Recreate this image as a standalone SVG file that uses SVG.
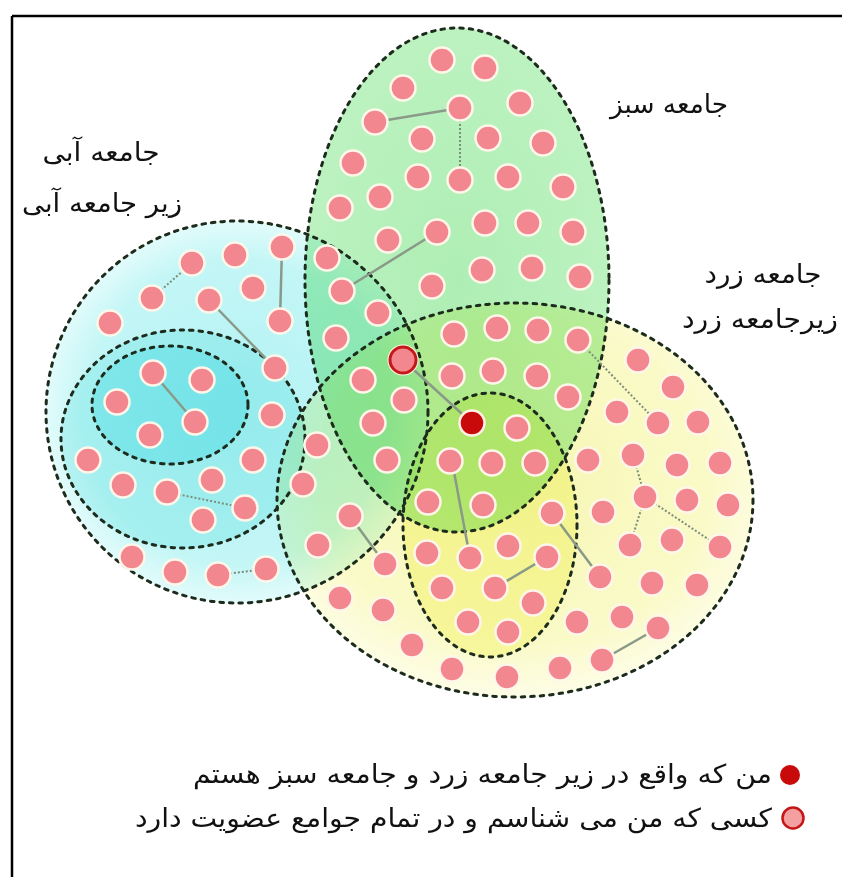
<svg xmlns="http://www.w3.org/2000/svg" width="842" height="877" viewBox="0 0 842 877">
<style>
.fill{mix-blend-mode:multiply}
.outline{fill:none;stroke:#1d2b1d;stroke-width:3;stroke-dasharray:3.5 6;stroke-linecap:round}
.d{fill:#f3878f;stroke:#fff6ea;stroke-width:2.5}
.e{stroke:#8a9a88;stroke-width:2.5;fill:none}
.ed{stroke:#7d8d7b;stroke-width:2;stroke-dasharray:2 2;fill:none}
.lbl{font-family:"DejaVu Sans",sans-serif;font-size:26px;fill:#111;text-anchor:middle}
.leg{font-family:"DejaVu Sans",sans-serif;font-size:26px;fill:#111;text-anchor:end}
</style>
<defs>
<radialGradient id="gBlue" cx="0.5" cy="0.5" r="0.5">
<stop offset="0" stop-color="#b2f2f4"/><stop offset="0.8" stop-color="#c4f6f6"/><stop offset="1" stop-color="#e2fbfb"/>
</radialGradient>
<radialGradient id="gYel" cx="0.5" cy="0.45" r="0.55">
<stop offset="0" stop-color="#f6f6b4"/><stop offset="0.75" stop-color="#fafac8"/><stop offset="1" stop-color="#fdfde6"/>
</radialGradient>
<radialGradient id="gGrn" cx="0.5" cy="0.5" r="0.5">
<stop offset="0" stop-color="#aeeeb4"/><stop offset="1" stop-color="#bcf2c0"/>
</radialGradient>
</defs>
<rect width="842" height="877" fill="#ffffff"/>
<g id="frame" stroke="#000" stroke-width="2.5">
<line x1="12" y1="16" x2="842" y2="16"/>
<line x1="12" y1="16" x2="12" y2="877"/>
</g>
<g id="community-fills">
<ellipse class="fill" cx="237" cy="412" rx="191" ry="191" fill="url(#gBlue)"/>
<ellipse class="fill" cx="183" cy="439" rx="122" ry="109" fill="#d6f8f8"/>
<ellipse class="fill" cx="170" cy="405" rx="78" ry="59" fill="#c6f7fa"/>
<ellipse class="fill" cx="457" cy="280" rx="152" ry="252" fill="url(#gGrn)"/>
<ellipse class="fill" cx="515" cy="500" rx="238" ry="197" fill="url(#gYel)"/>
<ellipse class="fill" cx="490" cy="525" rx="87" ry="132" fill="#fbfbc4"/>
</g>
<g id="community-outlines">
<ellipse id="blue-community" class="outline" cx="237" cy="412" rx="191" ry="191"/>
<ellipse id="blue-sub" class="outline" cx="183" cy="439" rx="122" ry="109"/>
<ellipse id="blue-inner" class="outline" cx="170" cy="405" rx="78" ry="59"/>
<ellipse id="green-community" class="outline" cx="457" cy="280" rx="152" ry="252"/>
<ellipse id="yellow-community" class="outline" cx="515" cy="500" rx="238" ry="197"/>
<ellipse id="yellow-sub" class="outline" cx="490" cy="525" rx="87" ry="132"/>
</g>
<g id="connectors">
<line class="e" x1="375" y1="122" x2="460" y2="108"/>
<line class="e" x1="342" y1="291" x2="437" y2="232"/>
<line class="e" x1="282" y1="247" x2="280" y2="321"/>
<line class="e" x1="209" y1="300" x2="275" y2="368"/>
<line class="e" x1="153" y1="373" x2="195" y2="422" stroke-width="1.5"/>
<line class="e" x1="403" y1="360" x2="472" y2="423"/>
<line class="e" x1="452" y1="461" x2="470" y2="558"/>
<line class="e" x1="350" y1="516" x2="385" y2="564"/>
<line class="e" x1="495" y1="588" x2="547" y2="557"/>
<line class="e" x1="552" y1="513" x2="600" y2="577"/>
<line class="e" x1="602" y1="660" x2="658" y2="628"/>
<line class="ed" x1="460" y1="108" x2="460" y2="180"/>
<line class="ed" x1="152" y1="298" x2="192" y2="263"/>
<line class="ed" x1="167" y1="492" x2="245" y2="508"/>
<line class="ed" x1="218" y1="575" x2="266" y2="569"/>
<line class="ed" x1="578" y1="340" x2="658" y2="423"/>
<line class="ed" x1="633" y1="455" x2="645" y2="497"/>
<line class="ed" x1="645" y1="497" x2="630" y2="545"/>
<line class="ed" x1="645" y1="497" x2="720" y2="547"/>
</g>
<g id="people">
<circle class="d" cx="442" cy="60" r="12.5"/><circle class="d" cx="485" cy="68" r="12.5"/><circle class="d" cx="403" cy="88" r="12.5"/>
<circle class="d" cx="375" cy="122" r="12.5"/><circle class="d" cx="460" cy="108" r="12.5"/><circle class="d" cx="520" cy="103" r="12.5"/>
<circle class="d" cx="422" cy="139" r="12.5"/><circle class="d" cx="488" cy="138" r="12.5"/><circle class="d" cx="543" cy="143" r="12.5"/>
<circle class="d" cx="353" cy="163" r="12.5"/><circle class="d" cx="418" cy="177" r="12.5"/><circle class="d" cx="460" cy="180" r="12.5"/>
<circle class="d" cx="508" cy="177" r="12.5"/><circle class="d" cx="563" cy="187" r="12.5"/><circle class="d" cx="380" cy="197" r="12.5"/>
<circle class="d" cx="340" cy="208" r="12.5"/><circle class="d" cx="437" cy="232" r="12.5"/><circle class="d" cx="485" cy="223" r="12.5"/>
<circle class="d" cx="528" cy="223" r="12.5"/><circle class="d" cx="573" cy="232" r="12.5"/><circle class="d" cx="388" cy="240" r="12.5"/>
<circle class="d" cx="327" cy="258" r="12.5"/><circle class="d" cx="432" cy="286" r="12.5"/><circle class="d" cx="482" cy="270" r="12.5"/>
<circle class="d" cx="532" cy="268" r="12.5"/><circle class="d" cx="580" cy="277" r="12.5"/><circle class="d" cx="342" cy="291" r="12.5"/>
<circle class="d" cx="282" cy="247" r="12.5"/><circle class="d" cx="235" cy="255" r="12.5"/><circle class="d" cx="192" cy="263" r="12.5"/>
<circle class="d" cx="152" cy="298" r="12.5"/><circle class="d" cx="209" cy="300" r="12.5"/><circle class="d" cx="253" cy="288" r="12.5"/>
<circle class="d" cx="110" cy="323" r="12.5"/><circle class="d" cx="280" cy="321" r="12.5"/><circle class="d" cx="275" cy="368" r="12.5"/>
<circle class="d" cx="153" cy="373" r="12.5"/><circle class="d" cx="202" cy="380" r="12.5"/><circle class="d" cx="117" cy="402" r="12.5"/>
<circle class="d" cx="195" cy="422" r="12.5"/><circle class="d" cx="150" cy="435" r="12.5"/><circle class="d" cx="272" cy="415" r="12.5"/>
<circle class="d" cx="88" cy="460" r="12.5"/><circle class="d" cx="253" cy="460" r="12.5"/><circle class="d" cx="123" cy="485" r="12.5"/>
<circle class="d" cx="167" cy="492" r="12.5"/><circle class="d" cx="212" cy="480" r="12.5"/><circle class="d" cx="245" cy="508" r="12.5"/>
<circle class="d" cx="203" cy="520" r="12.5"/><circle class="d" cx="132" cy="557" r="12.5"/><circle class="d" cx="175" cy="572" r="12.5"/>
<circle class="d" cx="218" cy="575" r="12.5"/><circle class="d" cx="266" cy="569" r="12.5"/>
<circle class="d" cx="378" cy="313" r="12.5"/><circle class="d" cx="336" cy="338" r="12.5"/><circle class="d" cx="363" cy="380" r="12.5"/>
<circle class="d" cx="404" cy="400" r="12.5"/><circle class="d" cx="373" cy="423" r="12.5"/><circle class="d" cx="387" cy="460" r="12.5"/>
<circle class="d" cx="317" cy="445" r="12.5"/><circle class="d" cx="303" cy="484" r="12.5"/><circle class="d" cx="350" cy="516" r="12.5"/>
<circle class="d" cx="318" cy="545" r="12.5"/><circle class="d" cx="385" cy="564" r="12.5"/><circle class="d" cx="340" cy="598" r="12.5"/>
<circle class="d" cx="383" cy="610" r="12.5"/><circle class="d" cx="412" cy="645" r="12.5"/>
<circle class="d" cx="454" cy="334" r="12.5"/><circle class="d" cx="497" cy="328" r="12.5"/><circle class="d" cx="538" cy="330" r="12.5"/>
<circle class="d" cx="578" cy="340" r="12.5"/><circle class="d" cx="452" cy="376" r="12.5"/><circle class="d" cx="493" cy="371" r="12.5"/>
<circle class="d" cx="537" cy="376" r="12.5"/><circle class="d" cx="568" cy="397" r="12.5"/><circle class="d" cx="517" cy="428" r="12.5"/>
<circle class="d" cx="450" cy="461" r="12.5"/><circle class="d" cx="492" cy="463" r="12.5"/><circle class="d" cx="535" cy="463" r="12.5"/>
<circle class="d" cx="588" cy="460" r="12.5"/><circle class="d" cx="428" cy="502" r="12.5"/><circle class="d" cx="483" cy="505" r="12.5"/>
<circle class="d" cx="552" cy="513" r="12.5"/><circle class="d" cx="427" cy="553" r="12.5"/><circle class="d" cx="470" cy="558" r="12.5"/>
<circle class="d" cx="508" cy="546" r="12.5"/><circle class="d" cx="547" cy="557" r="12.5"/><circle class="d" cx="442" cy="588" r="12.5"/>
<circle class="d" cx="495" cy="588" r="12.5"/><circle class="d" cx="533" cy="603" r="12.5"/><circle class="d" cx="468" cy="622" r="12.5"/>
<circle class="d" cx="508" cy="632" r="12.5"/><circle class="d" cx="452" cy="669" r="12.5"/><circle class="d" cx="507" cy="677" r="12.5"/>
<circle class="d" cx="638" cy="360" r="12.5"/><circle class="d" cx="673" cy="387" r="12.5"/><circle class="d" cx="617" cy="412" r="12.5"/>
<circle class="d" cx="658" cy="423" r="12.5"/><circle class="d" cx="698" cy="422" r="12.5"/><circle class="d" cx="633" cy="455" r="12.5"/>
<circle class="d" cx="677" cy="465" r="12.5"/><circle class="d" cx="720" cy="463" r="12.5"/><circle class="d" cx="603" cy="512" r="12.5"/>
<circle class="d" cx="645" cy="497" r="12.5"/><circle class="d" cx="687" cy="500" r="12.5"/><circle class="d" cx="728" cy="505" r="12.5"/>
<circle class="d" cx="630" cy="545" r="12.5"/><circle class="d" cx="672" cy="540" r="12.5"/><circle class="d" cx="720" cy="547" r="12.5"/>
<circle class="d" cx="600" cy="577" r="12.5"/><circle class="d" cx="652" cy="583" r="12.5"/><circle class="d" cx="697" cy="585" r="12.5"/>
<circle class="d" cx="577" cy="622" r="12.5"/><circle class="d" cx="622" cy="617" r="12.5"/><circle class="d" cx="658" cy="628" r="12.5"/>
<circle class="d" cx="560" cy="668" r="12.5"/><circle class="d" cx="602" cy="660" r="12.5"/>
</g>
<g id="known-person">
<circle cx="403" cy="360" r="15.5" fill="#fff4ea"/>
<circle cx="403" cy="360" r="13" fill="#f3878f" stroke="#c41818" stroke-width="3"/>
</g>
<g id="me">
<circle cx="472" cy="423" r="12.5" fill="#c80a0a" stroke="#fff0e6" stroke-width="2.5"/>
</g>
<g id="labels">
<text class="lbl" x="669" y="113" textLength="118" lengthAdjust="spacingAndGlyphs">جامعه سبز</text>
<text class="lbl" x="101" y="161" textLength="117" lengthAdjust="spacingAndGlyphs">جامعه آبی</text>
<text class="lbl" x="102" y="212" textLength="160" lengthAdjust="spacingAndGlyphs">زیر جامعه آبی</text>
<text class="lbl" x="763" y="283" textLength="117" lengthAdjust="spacingAndGlyphs">جامعه زرد</text>
<text class="lbl" x="760" y="328" textLength="156" lengthAdjust="spacingAndGlyphs">زیرجامعه زرد</text>
</g>
<g id="legend">
<circle cx="790" cy="775" r="10" fill="#c80a0a"/>
<circle cx="793" cy="818" r="10.5" fill="#f4a0a0" stroke="#c41818" stroke-width="2.5"/>
<text class="leg" x="772" y="783" textLength="579" lengthAdjust="spacingAndGlyphs">من که واقع در زیر جامعه زرد و جامعه سبز هستم</text>
<text class="leg" x="772" y="827" textLength="637" lengthAdjust="spacingAndGlyphs">کسی که من می شناسم و در تمام جوامع عضویت دارد</text>
</g>
</svg>
